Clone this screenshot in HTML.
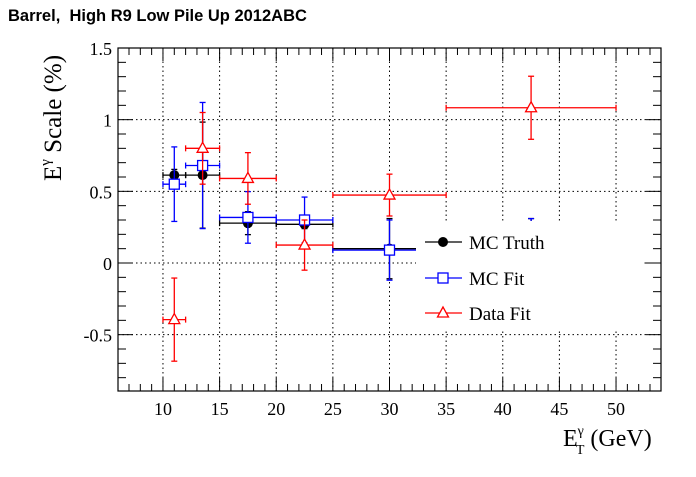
<!DOCTYPE html>
<html><head><meta charset="utf-8"><style>
body{margin:0;background:#fff;}
svg text{font-family:"Liberation Serif",serif;}
</style></head><body>
<svg width="696" height="472" xmlns="http://www.w3.org/2000/svg">
<rect width="696" height="472" fill="#fff"/>
<text x="8" y="21" style="font-family:'Liberation Sans',sans-serif;font-weight:bold;font-size:16.5px">Barrel,&#160; High R9 Low Pile Up 2012ABC</text>
<g id="grid"></g>
<g id="axes"></g>
<g id="series"></g>
<g id="legend"></g>
<text x="0" y="0" transform="translate(61,181) rotate(-90)" font-size="25">E<tspan dy="-11" font-size="15">γ</tspan><tspan dy="11"> Scale (%)</tspan></text>
<text x="563" y="446" font-size="24">E<tspan dy="-11" font-size="14">γ</tspan><tspan dx="-8" dy="19" font-size="14">T</tspan><tspan dy="-8"> (GeV)</tspan></text>
<script>
const xTicks=[10,15,20,25,30,35,40,45,50];
const yTicks=[-0.5,0,0.5,1,1.5];
const yTickLabels=["-0.5","0","0.5","1","1.5"];
const xCenters=[11,13.5,17.5,22.5,30,42.5];
const xLow=[10,12,15,20,25,35];
const xHigh=[12,15,20,25,35,50];
const truthVals=[0.613,0.613,0.278,0.27,0.10,0.10];
const truthErr=[0.04,0.37,0.08,0.03,0.21,0.21];
const mcFitVals=[0.55,0.68,0.318,0.30,0.09,0.10];
const mcFitErr=[0.26,0.44,0.18,0.16,0.21,0.21];
const dataVals=[-0.395,0.80,0.59,0.125,0.474,1.083];
const dataErr=[0.29,0.25,0.18,0.175,0.146,0.22];
const L=118,R=661,T=48,B=391;
const xmin=6.03,xmax=53.97,ymin=-0.893,ymax=1.5;
const X=v=>L+(v-xmin)/(xmax-xmin)*(R-L);
const Y=v=>B-(v-ymin)/(ymax-ymin)*(B-T);
const NS="http://www.w3.org/2000/svg";
function mk(tag,attrs,parent){const e=document.createElementNS(NS,tag);for(const k in attrs)e.setAttribute(k,attrs[k]);document.getElementById(parent).appendChild(e);return e;}
xTicks.forEach(t=>{const e=mk('line',{x1:X(t),x2:X(t),y1:T,y2:B,stroke:'#000','stroke-dasharray':'1.5,3','stroke-width':1},'grid');

});
yTicks.forEach(t=>{const e=mk('line',{x1:L,x2:R,y1:Y(t),y2:Y(t),stroke:'#000','stroke-dasharray':'1.5,3','stroke-width':1},'grid');

});
const fr=mk('rect',{x:L,y:T,width:R-L,height:B-T,fill:'none',stroke:'#000','stroke-width':1.2},'axes');


for(let v=7;v<=53;v++){const maj=v%5===0;const len=maj?13:7;
mk('line',{x1:X(v),x2:X(v),y1:B,y2:B-len,stroke:'#000'},'axes');
mk('line',{x1:X(v),x2:X(v),y1:T,y2:T+len,stroke:'#000'},'axes');}
for(let i=-8;i<=15;i++){const v=i/10;const maj=i%5===0;const len=maj?15:8;
mk('line',{x1:L,x2:L+len,y1:Y(v),y2:Y(v),stroke:'#000'},'axes');
mk('line',{x1:R,x2:R-len,y1:Y(v),y2:Y(v),stroke:'#000'},'axes');}
xTicks.forEach(t=>{const e=mk('text',{x:X(t),y:B+24,'text-anchor':'middle','font-size':18},'axes');e.textContent=t;

});
yTicks.forEach((t,i)=>{const e=mk('text',{x:L-6,y:Y(t)+7,'text-anchor':'end','font-size':18},'axes');e.textContent=yTickLabels[i];

});
function series(vals,err,color,marker,name){
vals.forEach((v,i)=>{const cx=X(xCenters[i]),cy=Y(v);
const g=mk('g',{},'series');


const a=(p)=>{const e=document.createElementNS(NS,'line');for(const k in p)e.setAttribute(k,p[k]);e.setAttribute('stroke',color);e.setAttribute('stroke-width',1.3);g.appendChild(e);};
a({x1:X(xLow[i]),x2:X(xHigh[i]),y1:cy,y2:cy});
a({x1:X(xLow[i]),x2:X(xLow[i]),y1:cy-3,y2:cy+3});
a({x1:X(xHigh[i]),x2:X(xHigh[i]),y1:cy-3,y2:cy+3});
a({x1:cx,x2:cx,y1:Y(v+err[i]),y2:Y(v-err[i])});
a({x1:cx-3,x2:cx+3,y1:Y(v+err[i]),y2:Y(v+err[i])});
a({x1:cx-3,x2:cx+3,y1:Y(v-err[i]),y2:Y(v-err[i])});
drawMarker(g,marker,cx,cy,color);});}
function drawMarker(g,marker,cx,cy,color){let e;
if(marker==='circle'){e=document.createElementNS(NS,'circle');e.setAttribute('cx',cx);e.setAttribute('cy',cy);e.setAttribute('r',5);e.setAttribute('fill','#000');}
else if(marker==='square'){e=document.createElementNS(NS,'rect');e.setAttribute('x',cx-5);e.setAttribute('y',cy-5);e.setAttribute('width',10);e.setAttribute('height',10);e.setAttribute('fill','#fff');e.setAttribute('stroke',color);e.setAttribute('stroke-width',1.3);}
else{e=document.createElementNS(NS,'polygon');e.setAttribute('points',`${cx},${cy-6} ${cx-5.5},${cy+4} ${cx+5.5},${cy+4}`);e.setAttribute('fill','#fff');e.setAttribute('stroke',color);e.setAttribute('stroke-width',1.3);}
g.appendChild(e);}
series(truthVals,truthErr,'#000','circle','mc-truth');
series(mcFitVals,mcFitErr,'#00f','square','mc-fit');
series(dataVals,dataErr,'#f00','triangle','data-fit');
const lb=mk('rect',{x:416,y:221,width:226,height:110,fill:'#fff'},'legend');


[['MC Truth','#000','circle',242],['MC Fit','#00f','square',278],['Data Fit','#f00','triangle',313]].forEach(([lab,c,m,y])=>{
const g=mk('g',{},'legend');


const l=document.createElementNS(NS,'line');l.setAttribute('x1',425);l.setAttribute('x2',462);l.setAttribute('y1',y);l.setAttribute('y2',y);l.setAttribute('stroke',c);l.setAttribute('stroke-width',1.3);g.appendChild(l);
drawMarker(g,m,443,y,c);
const t=document.createElementNS(NS,'text');t.setAttribute('x',469);t.setAttribute('y',y+7);t.setAttribute('font-size',19);t.textContent=lab;g.appendChild(t);});
</script>
</svg>
</body></html>
